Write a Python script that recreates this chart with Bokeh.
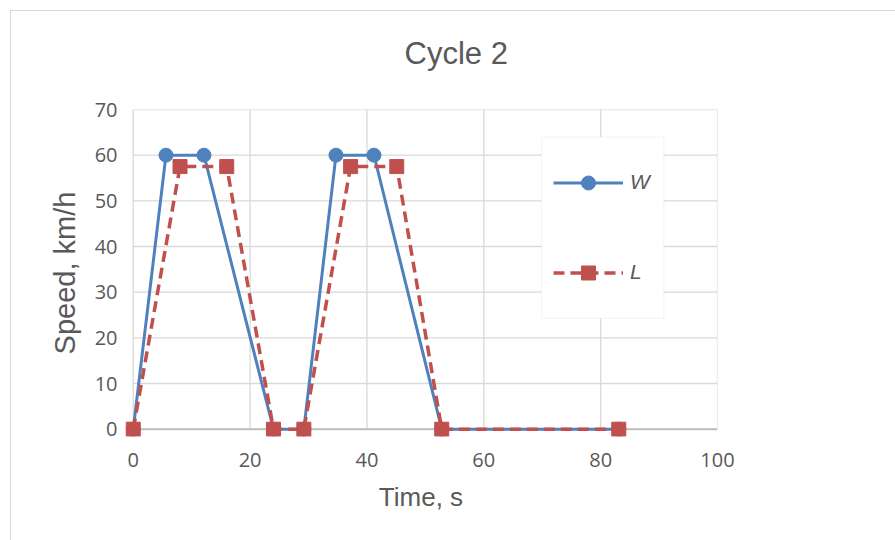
from bokeh.plotting import figure
from bokeh.models import Legend, LegendItem, BoxAnnotation, FixedTicker, Title
from bokeh.embed import file_html
from bokeh.resources import INLINE

# ---- data ----
w_time = [0, 5.6, 12.1, 24.0, 29.2, 34.7, 41.2, 52.8, 83.1]
w_speed = [0, 60, 60, 0, 0, 60, 60, 0, 0]
l_time = [0, 8.0, 16.0, 24.0, 29.2, 37.2, 45.1, 52.8, 83.1]
l_speed = [0, 57.5, 57.5, 0, 0, 57.5, 57.5, 0, 0]
x_ticks = [0, 20, 40, 60, 80, 100]
y_ticks = [0, 10, 20, 30, 40, 50, 60, 70]
title_text = "Cycle 2"
x_label = "Time, s"
y_label = "Speed, km/h"
series_names = ["W", "L"]

BLUE = "#4F81BD"
RED = "#C0504D"
TXT = "#595959"
GRID = "#d9d9d9"

x0, x1 = x_ticks[0], x_ticks[-1]
y0, y1 = y_ticks[0], y_ticks[-1]

p = figure(
    frame_width=593, frame_height=327,
    min_border_left=113, min_border_right=178,
    min_border_top=98, min_border_bottom=104,
    x_range=(x0 - 1.5, x1), y_range=(y0 - 1.6, y1),
    output_backend="svg", toolbar_location=None,
    background_fill_color="white", border_fill_color="white",
)
p.margin = (10, 0, 0, 10)
p.styles = {"border-left": "1px solid #d9d9d9", "border-top": "1px solid #d9d9d9"}
p.outline_line_color = None
p.xgrid.visible = False
p.ygrid.visible = False

# chart title
p.title.text = title_text
p.title.align = "left"
p.title.offset = 280
p.title.vertical_align = "top"
p.title.text_font = "Liberation Sans"
p.title.text_font_size = "31px"
p.title.text_font_style = "normal"
p.title.text_color = TXT
p.title.standoff = 10

# spacer between the title and the plot area
spacer = Title(text=" ", text_font_size="1px", standoff=29)
p.add_layout(spacer, "above")

# gridlines (bounded to the data area)
p.segment(x0=x_ticks, y0=[y0] * len(x_ticks), x1=x_ticks, y1=[y1] * len(x_ticks),
          line_color=GRID, line_width=1.3, level="underlay")
p.segment(x0=[x0] * len(y_ticks), y0=y_ticks, x1=[x1] * len(y_ticks), y1=y_ticks,
          line_color=GRID, line_width=1.3, level="underlay")
# horizontal axis line at y = 0
p.segment(x0=[x0], y0=[y0], x1=[x1], y1=[y0], line_color="#bfbfbf", line_width=2,
          level="underlay")

# axes
p.xaxis.ticker = FixedTicker(ticks=x_ticks)
p.yaxis.ticker = FixedTicker(ticks=y_ticks)
for ax in (p.xaxis[0], p.yaxis[0]):
    ax.axis_line_color = None
    ax.major_tick_line_color = None
    ax.minor_tick_line_color = None
    ax.major_label_text_font = "Open Sans"
    ax.major_label_text_font_size = "20px"
    ax.major_label_text_color = TXT
    ax.axis_label_text_font = "Liberation Sans"
    ax.axis_label_text_font_style = "normal"
    ax.axis_label_text_color = TXT
p.xaxis.axis_label_text_font_size = "26px"
p.yaxis.axis_label_text_font_size = "29px"
p.xaxis.axis_label = x_label
p.yaxis.axis_label = y_label
p.xaxis.major_label_standoff = 10
p.yaxis.major_label_standoff = 1
p.xaxis.axis_label_standoff = 12
p.yaxis.axis_label_standoff = 11

# series
wl = p.line(w_time, w_speed, line_color=BLUE, line_width=3)
wm = p.scatter(w_time, w_speed, marker="circle", size=14, fill_color=BLUE, line_color=BLUE)
ll = p.line(l_time, l_speed, line_color=RED, line_width=3.5, line_dash="11 6")
lm = p.scatter(l_time, l_speed, marker="square", size=14, fill_color=RED, line_color=RED)

# legend box
box = BoxAnnotation(left=69.9, right=90.8, top=63.9, bottom=24.3,
                    fill_color="white", fill_alpha=1.0,
                    line_color="#e6e6d8", line_width=1.5)
p.add_layout(box)

legend = Legend(
    items=[LegendItem(label=series_names[0], renderers=[wl, wm]),
           LegendItem(label=series_names[1], renderers=[ll, lm])],
    location=(429, 146.5),
    padding=0, margin=0, spacing=55,
    glyph_width=70, glyph_height=35, label_standoff=7,
    background_fill_alpha=0, border_line_color=None,
    label_text_font="Liberation Sans", label_text_font_style="italic",
    label_text_font_size="21px", label_text_color=TXT,
)
p.add_layout(legend)

open("out.html", "w").write(file_html(p, INLINE))
